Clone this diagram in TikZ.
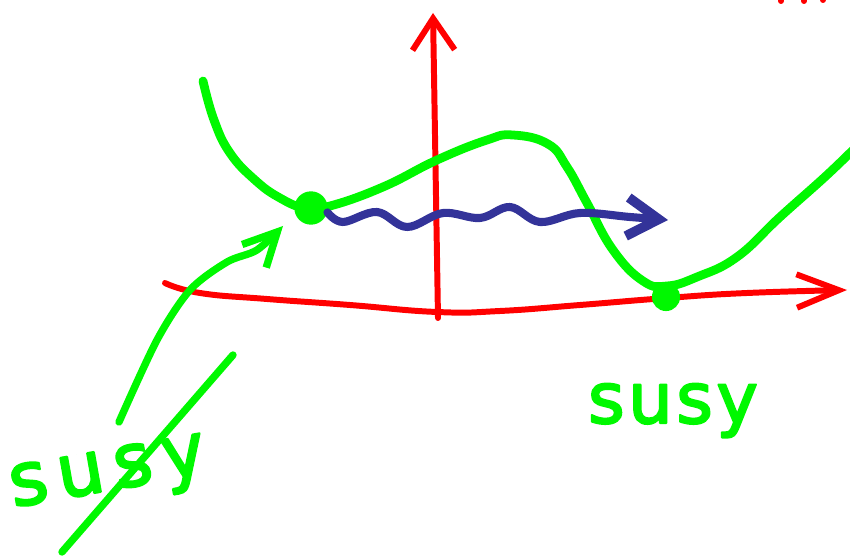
\documentclass[tikz,border=0pt]{standalone}
\usepackage{fontspec}
\usepackage{tikz}
\usetikzlibrary{arrows.meta}
\newfontfamily\handfont{DejaVu Sans}[FakeBold=3,LetterSpace=5]
\newfontfamily\handfontwide{DejaVu Sans}[FakeBold=3,LetterSpace=14]
\definecolor{penred}{RGB}{255,0,0}
\definecolor{pengreen}{RGB}{0,248,0}
\definecolor{penblue}{RGB}{51,51,153}

\begin{document}
\begin{tikzpicture}[x=0.02cm,y=-0.02cm,line cap=round,line join=round,
  axis/.style={penred,line width=3.4pt},
  pot/.style={pengreen,line width=5pt},
  vac/.style={circle,fill=pengreen,inner sep=0pt,minimum size=#1},
  wave/.style={penblue,line width=4.6pt},
  hand/.style={pengreen,font=\handfont\fontsize{#1}{#1}\selectfont}]
\useasboundingbox (0,0) rectangle (850,557);
\coordinate (o) at (438,318);
\coordinate (ytip) at (433,13);
\coordinate (x0) at (165,283);
\coordinate (xtip) at (847,290);
\draw[axis,-{Straight Barb[length=18pt,width=24pt]}] (o) -- (ytip);
\draw[axis,-{Straight Barb[length=24pt,width=19pt]}] plot[smooth,tension=0.8] coordinates
  {(x0) (200,293) (267,299) (350,305) (437,312) (500,311) (580,305) (667,298) (747,293) (xtip)};
\draw[axis] (781,-8) -- (781,1);
\draw[axis] (804,-8) -- (804,1);
\draw[axis] (823,-8) -- (823,0);
\draw[pot] plot[smooth,tension=0.75] coordinates
  {(203,81) (214,120) (230,153) (255,180) (280,198) (305,208) (330,206) (383,187) (437,160) (487,140)
   (513,135) (548,144) (567,167) (587,203) (613,250) (643,281) (667,286) (697,277) (737,257)
   (780,217) (827,175) (860,143)};
\node[vac=19pt] (vac1) at (311,208) {};
\node[vac=16pt] (vac2) at (666,297) {};
\coordinate (w1) at (668,220);
\draw[wave,-{Straight Barb[length=18pt,width=22pt,line width=5.5pt]}] plot[smooth,tension=0.6] coordinates
  {(vac1.-15) (343,222) (377,212) (407,227) (443,213) (480,218) (510,207) (540,222) (580,213) (630,217) (w1)};
\coordinate (p0) at (119,422);
\coordinate (p1) at (283,226);
\draw[pot,line width=4.2pt,-{Straight Barb[length=19pt,width=19pt]}] plot[smooth] coordinates
  {(p0) (157,340) (190,290) (227,262) (257,250) (p1)};
\draw[pot,line width=4.2pt] (233,355) -- (62,552);
\node[hand=40,anchor=base] (susyR) at (673,423) {susy};
\node[hand=42,font=\handfontwide\fontsize{42}{42}\selectfont,rotate=10,anchor=base] (susyL) at (111,490) {susy};
\end{tikzpicture}
\end{document}
